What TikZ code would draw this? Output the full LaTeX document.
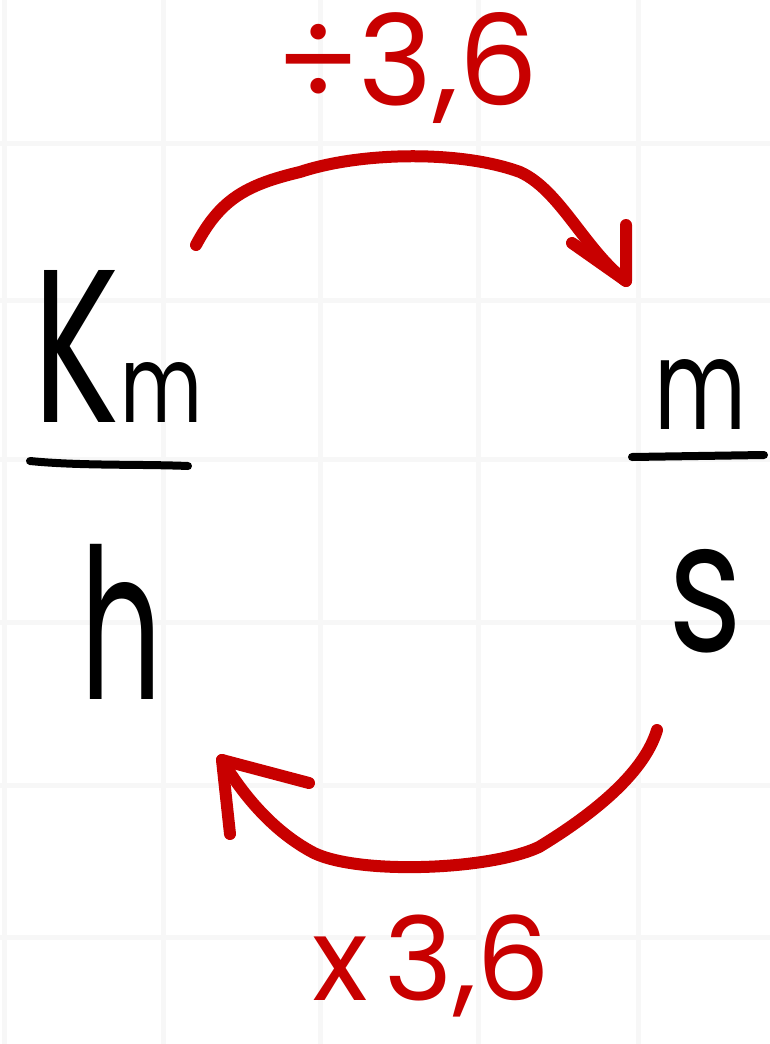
\documentclass[tikz,border=0pt]{standalone}
\usepackage{fontspec}
\setmainfont{Poppins}
\usepackage{graphicx}
\definecolor{inkred}{RGB}{200,0,0}
\definecolor{gridc}{RGB}{247,247,247}
\tikzset{
  gridline/.style={draw=gridc, line width=5pt},
  bar/.style={draw=black, line width=8pt, line cap=round},
  redline/.style={draw=inkred, line width=12pt, line cap=round, line join=round},
  lbl/.style={inner sep=0pt, outer sep=0pt},
}
\begin{document}
\begin{tikzpicture}[x=1pt,y=-1pt]
\useasboundingbox (0,0) rectangle (770,1044);
\fill[white] (0,0) rectangle (770,1044);
% grid
\foreach \gx in {4,163,320,478,638} \draw[gridline] (\gx,0) -- (\gx,1044);
\foreach \gy in {143,300,459,622,785,937} \draw[gridline] (0,\gy) -- (770,\gy);

% fractions
\node[lbl] (km) at (118,346) {\resizebox{86pt}{152pt}{K}\resizebox{82pt}{60pt}{m}};
\node[lbl] (h) at (122,622) {\resizebox{82pt}{155pt}{h}};
\coordinate (lb1) at (30,461);
\coordinate (lb2) at (188,466);
\draw[bar] (lb1) .. controls (80,466) and (140,464) .. (lb2);

\node[lbl] (m) at (701,394) {\resizebox{92pt}{70pt}{m}};
\node[lbl] (s) at (706,601) {\resizebox{74pt}{102pt}{s}};
\coordinate (rb1) at (632,457);
\coordinate (rb2) at (764,455);
\draw[bar] (rb1) -- (rb2);

% labels
\node[lbl, anchor=base west] (div) at (276,105) {\textcolor{inkred}{\resizebox{262pt}{!}{÷3,6}}};
\node[lbl, anchor=base west] (mul) at (312,1000) {\textcolor{inkred}{\resizebox{238pt}{!}{x\kern0.15em3,6}}};

% top arrow
\coordinate (t1) at (196,245);
\coordinate (t4) at (626,281);
\draw[redline] (t1) .. controls (220,200) and (245,185) .. (300,172)
  .. controls (360,152) and (460,150) .. (520,172)
  .. controls (560,190) and (585,250) .. (t4);
\draw[redline] ([shift={(0,-56)}]t4) -- (t4) -- ([shift={(-54,-38)}]t4);

% bottom arrow
\coordinate (b1) at (657,730);
\coordinate (b4) at (222,760);
\draw[redline] (b1) .. controls (645,770) and (600,810) .. (539,847)
  .. controls (490,870) and (360,875) .. (314,853)
  .. controls (270,830) and (240,790) .. (b4);
\draw[redline] ([shift={(8,74)}]b4) -- (b4) -- ([shift={(87,23)}]b4);
\end{tikzpicture}
\end{document}
